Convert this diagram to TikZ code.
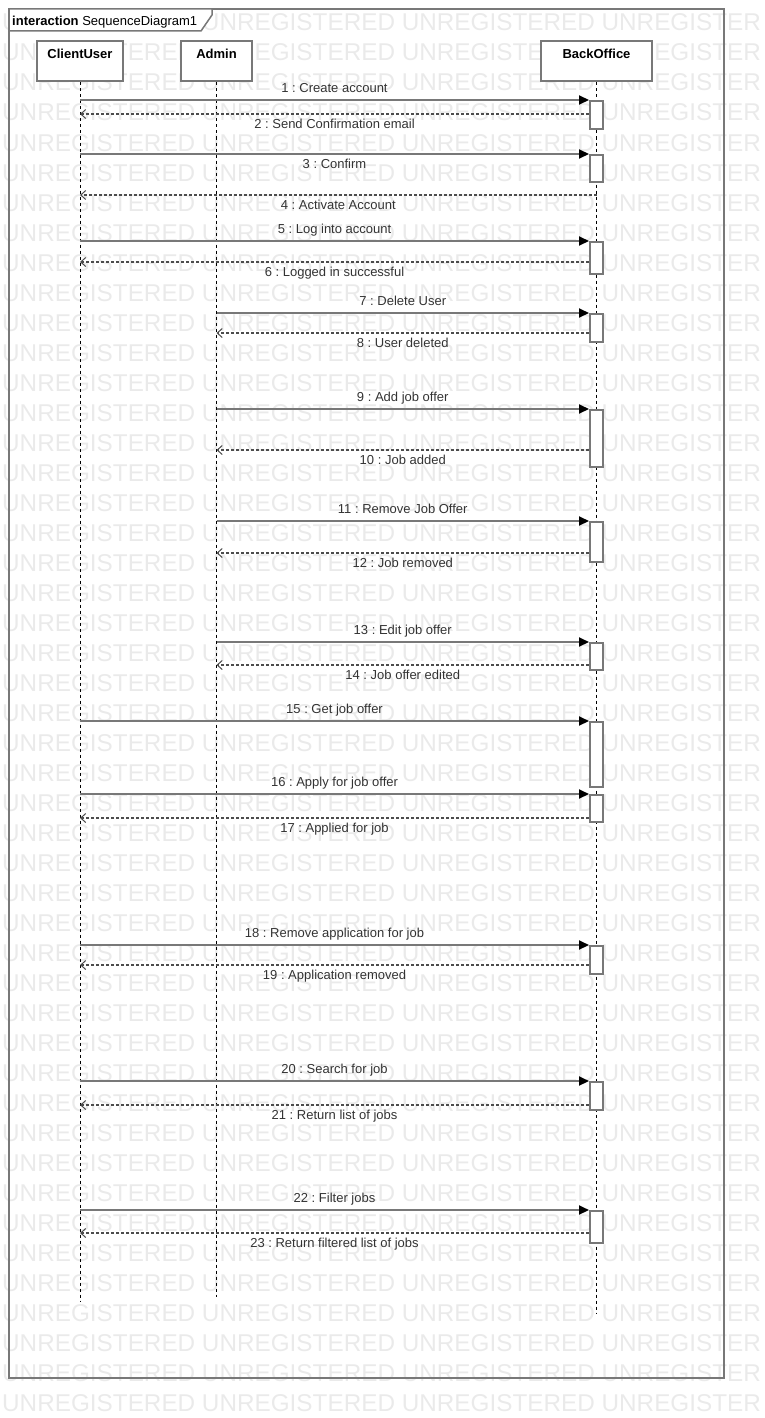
\documentclass[tikz,border=0pt]{standalone}
\usepackage{fontspec}
\setmainfont{Liberation Sans}
\usetikzlibrary{positioning,arrows.meta,calc}
\frenchspacing

\definecolor{umlline}{HTML}{787878}
\definecolor{umltext}{HTML}{333333}
\definecolor{wmgray}{HTML}{EAEAEA}

\begin{document}
\begin{tikzpicture}[x=1pt, y=-1pt, font=\fontsize{13}{15}\selectfont,
  wmark/.style={anchor=base west, inner sep=0pt, text=wmgray, font=\fontsize{24.3}{28}\selectfont},
  head/.style={draw=umlline, line width=2pt, fill=white, font=\fontsize{13}{15}\selectfont\bfseries, inner ysep=7pt, text height=10pt, text depth=16pt},
  life/.style={line width=1pt, dash pattern=on 3pt off 3pt},
  act/.style={draw=umlline, line width=2pt, fill=white, minimum width=13pt, inner sep=0pt, anchor=north},
  call/.style={draw=umlline, line width=2pt, -{Triangle[length=10pt,width=9pt,color=black]}},
  ret/.style={draw=black!70, line width=1.2pt, dash pattern=on 3pt off 2pt, -{Straight Barb[length=5pt,width=9pt,line width=1pt]}},
  msg/.style={text=umltext, inner sep=4pt, text height=9.5pt, text depth=2.5pt}]
  \useasboundingbox (0,0) rectangle (765,1418);
  \foreach \k in {0,...,46}
    \node[wmark] (wm\k) at (2,31+30*\k) {UNREGISTERED UNREGISTERED UNREGISTERED UNREGISTER};

  \draw[umlline, line width=2pt] (9,9) rectangle (724,1378);
  \draw[umlline, line width=1.5pt, fill=white] (9,9) -- (212,9) -- (212,15) -- (201,31) -- (9,31) -- cycle;
  \node[anchor=base west, inner sep=0pt] (frametitle) at (12,26) {\textbf{interaction} SequenceDiagram1};

  \node[head, minimum width=86pt] (client) at (80,61.5) {ClientUser};
  \node[head, minimum width=71pt] (admin) at (216.5,61.5) {Admin};
  \node[head, minimum width=111pt] (office) at (596.5,61.5) {BackOffice};
  \coordinate (clientend) at (80,1302);
  \coordinate (adminend) at (216.5,1297);
  \coordinate (officeend) at (596.5,1313);
  \draw[life] (client) -- (clientend);
  \draw[life] (admin) -- (adminend);
  \draw[life] (office) -- (officeend);

  \node[act, minimum height=28pt] (a1) at (596.5,100) {};
  \node[act, minimum height=27pt] (a3) at (596.5,154) {};
  \node[act, minimum height=32pt] (a5) at (596.5,241) {};
  \node[act, minimum height=28pt] (a7) at (596.5,313) {};
  \node[act, minimum height=57pt] (a9) at (596.5,409) {};
  \node[act, minimum height=40pt] (a11) at (596.5,521) {};
  \node[act, minimum height=27pt] (a13) at (596.5,642) {};
  \node[act, minimum height=65pt] (a15) at (596.5,721) {};
  \node[act, minimum height=27pt] (a16) at (596.5,794) {};
  \node[act, minimum height=28pt] (a18) at (596.5,945) {};
  \node[act, minimum height=28pt] (a20) at (596.5,1081) {};
  \node[act, minimum height=32pt] (a22) at (596.5,1210) {};

  \coordinate (r2) at ($(a1.north west)+(0,14)$);
  \coordinate (r4) at ($(office |- a3.south)+(0,12)$);
  \coordinate (r6) at ($(a5.north west)+(0,21)$);
  \coordinate (r8) at ($(a7.north west)+(0,20)$);
  \coordinate (r10) at ($(a9.north west)+(0,41)$);
  \coordinate (r12) at ($(a11.north west)+(0,32)$);
  \coordinate (r14) at ($(a13.north west)+(0,23)$);
  \coordinate (r17) at ($(a16.north west)+(0,24)$);
  \coordinate (r19) at ($(a18.north west)+(0,20)$);
  \coordinate (r21) at ($(a20.north west)+(0,24)$);
  \coordinate (r23) at ($(a22.north west)+(0,23)$);

  \draw[call] (client |- a1.north) -- node[msg, above] (l1) {1 : Create account} (a1.north west);
  \draw[ret] (r2) -- node[msg, below] (l2) {2 : Send Confirmation email} (client |- r2);
  \draw[call] (client |- a3.north) -- node[msg, below] (l3) {3 : Confirm} (a3.north west);
  \draw[ret] (r4) -- node[msg, below] (l4) {4 : Activate Account} (client |- r4);
  \draw[call] (client |- a5.north) -- node[msg, above] (l5) {5 : Log into account} (a5.north west);
  \draw[ret] (r6) -- node[msg, below] (l6) {6 : Logged in successful} (client |- r6);
  \draw[call] (admin |- a7.north) -- node[msg, above] (l7) {7 : Delete User} (a7.north west);
  \draw[ret] (r8) -- node[msg, below] (l8) {8 : User deleted} (admin |- r8);
  \draw[call] (admin |- a9.north) -- node[msg, above] (l9) {9 : Add job offer} (a9.north west);
  \draw[ret] (r10) -- node[msg, below] (l10) {10 : Job added} (admin |- r10);
  \draw[call] (admin |- a11.north) -- node[msg, above] (l11) {11 : Remove Job Offer} (a11.north west);
  \draw[ret] (r12) -- node[msg, below] (l12) {12 : Job removed} (admin |- r12);
  \draw[call] (admin |- a13.north) -- node[msg, above] (l13) {13 : Edit job offer} (a13.north west);
  \draw[ret] (r14) -- node[msg, below] (l14) {14 : Job offer edited} (admin |- r14);
  \draw[call] (client |- a15.north) -- node[msg, above] (l15) {15 : Get job offer} (a15.north west);
  \draw[call] (client |- a16.north) -- node[msg, above] (l16) {16 : Apply for job offer} (a16.north west);
  \draw[ret] (r17) -- node[msg, below] (l17) {17 : Applied for job} (client |- r17);
  \draw[call] (client |- a18.north) -- node[msg, above] (l18) {18 : Remove application for job} (a18.north west);
  \draw[ret] (r19) -- node[msg, below] (l19) {19 : Application removed} (client |- r19);
  \draw[call] (client |- a20.north) -- node[msg, above] (l20) {20 : Search for job} (a20.north west);
  \draw[ret] (r21) -- node[msg, below] (l21) {21 : Return list of jobs} (client |- r21);
  \draw[call] (client |- a22.north) -- node[msg, above] (l22) {22 : Filter jobs} (a22.north west);
  \draw[ret] (r23) -- node[msg, below] (l23) {23 : Return filtered list of jobs} (client |- r23);
\end{tikzpicture}
\end{document}
